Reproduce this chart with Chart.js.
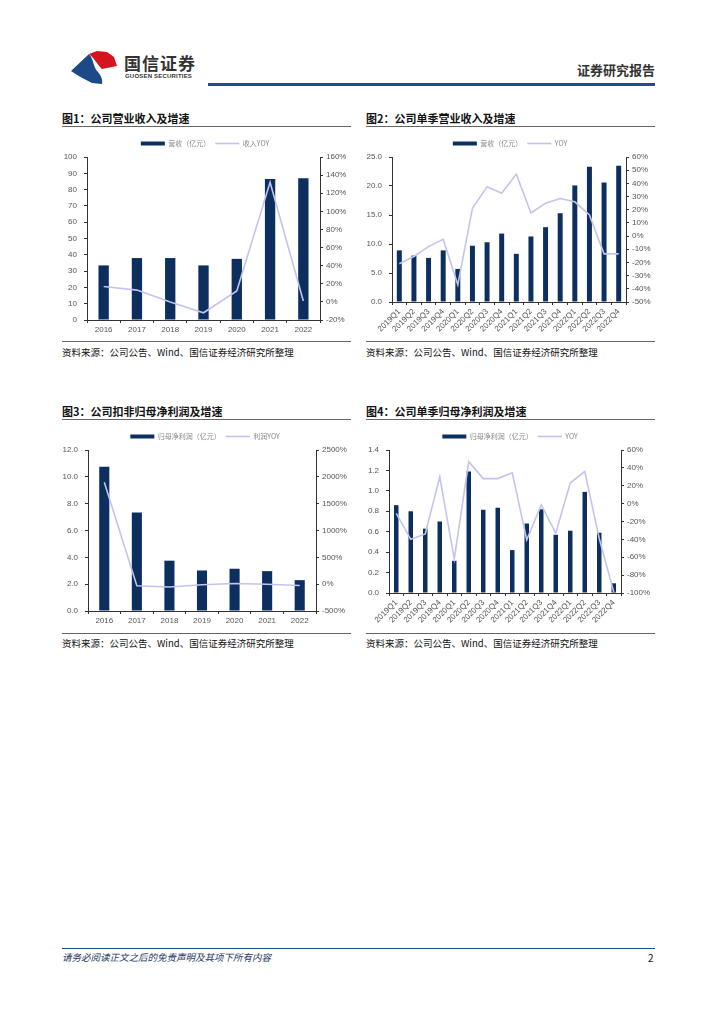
<!DOCTYPE html>
<html>
<head>
<meta charset="utf-8">
<script src="https://cdn.jsdelivr.net/npm/chart.js@4"></script>
<style>
  body { margin: 0; background: #fff; }
  #page { position: relative; width: 724px; height: 1024px; overflow: hidden;
    font-family: "Noto Sans CJK SC", "Noto Sans", sans-serif; color: #222; }
  .abs { position: absolute; }
  .title { font-size: 11px; font-weight: bold; color: #111; white-space: nowrap; }
  .rule { height: 0; border-top: 1.5px solid #666; }
  .src { font-size: 9.5px; color: #111; white-space: nowrap; }
  .box { position: absolute; }
</style>
</head>
<body>
<div id="page">
  <!-- header -->
  <svg class="abs" style="left:68px;top:48px" width="56" height="40" viewBox="0 0 56 40">
    <path d="M3,23 L21,6 C26,12 25,18 29,23 C33,27 35,32 34,36 L24,35 C18,32 10,28 3,23 Z" fill="#1b4a86"/>
    <path d="M21,6 L29,3 L39,4 L46,9 L49,18 L34,21 C29,16 27,11 21,6 Z" fill="#d4141e"/>
  </svg>
  <div class="abs" style="left:124px;top:50px;font-size:17px;font-weight:bold;color:#333;letter-spacing:1px">国信证券</div>
  <div class="abs" style="left:125px;top:73px;font-family:'Liberation Sans';font-size:6px;font-weight:bold;color:#333;letter-spacing:0.2px">GUOSEN SECURITIES</div>
  <div class="abs" style="right:69px;top:60px;font-size:13px;font-weight:bold;color:#333">证券研究报告</div>
  <div class="abs" style="left:208px;top:83px;width:447px;height:2.5px;background:#1f4e8c"></div>

  <!-- figure 1 -->
  <div class="abs title" style="left:62px;top:110px">图1：公司营业收入及增速</div>
  <div class="abs rule" style="left:62px;top:126px;width:289px"></div>
  <div class="box" style="left:55px;top:135px;width:300px;height:205px"><canvas id="c1"></canvas></div>
  <div class="abs rule" style="left:62px;top:341px;width:289px"></div>
  <div class="abs src" style="left:62px;top:345px">资料来源：公司公告、Wind、国信证券经济研究所整理</div>

  <!-- figure 2 -->
  <div class="abs title" style="left:366px;top:110px">图2：公司单季营业收入及增速</div>
  <div class="abs rule" style="left:366px;top:126px;width:289px"></div>
  <div class="box" style="left:360px;top:135px;width:300px;height:205px"><canvas id="c2"></canvas></div>
  <div class="abs rule" style="left:366px;top:341px;width:289px"></div>
  <div class="abs src" style="left:366px;top:345px">资料来源：公司公告、Wind、国信证券经济研究所整理</div>

  <!-- figure 3 -->
  <div class="abs title" style="left:62px;top:403px">图3：公司扣非归母净利润及增速</div>
  <div class="abs rule" style="left:62px;top:419px;width:289px"></div>
  <div class="box" style="left:55px;top:428px;width:300px;height:204px"><canvas id="c3"></canvas></div>
  <div class="abs rule" style="left:62px;top:633px;width:289px"></div>
  <div class="abs src" style="left:62px;top:636px">资料来源：公司公告、Wind、国信证券经济研究所整理</div>

  <!-- figure 4 -->
  <div class="abs title" style="left:366px;top:403px">图4：公司单季归母净利润及增速</div>
  <div class="abs rule" style="left:366px;top:419px;width:289px"></div>
  <div class="box" style="left:360px;top:428px;width:300px;height:204px"><canvas id="c4"></canvas></div>
  <div class="abs rule" style="left:366px;top:633px;width:289px"></div>
  <div class="abs src" style="left:366px;top:636px">资料来源：公司公告、Wind、国信证券经济研究所整理</div>

  <!-- footer -->
  <div class="abs" style="left:62px;top:948px;width:593px;height:1px;background:#1f4e8c"></div>
  <div class="abs" style="left:62px;top:950px;font-size:9.5px;font-style:italic;color:#1f3864">请务必阅读正文之后的免责声明及其项下所有内容</div>
  <div class="abs" style="left:648px;top:950px;font-size:10px;color:#111">2</div>
</div>

<script>
// categories
const years = ["2016", "2017", "2018", "2019", "2020", "2021", "2022"];
const quarters = ["2019Q1", "2019Q2", "2019Q3", "2019Q4", "2020Q1", "2020Q2", "2020Q3", "2020Q4",
  "2021Q1", "2021Q2", "2021Q3", "2021Q4", "2022Q1", "2022Q2", "2022Q3", "2022Q4"];

// 图1 营收（亿元） / 收入YOY (%)
const revenueYear = [33.5, 38.0, 38.0, 33.5, 37.5, 86.5, 87.0];
const revenueYearYoy = [17, 13, 0, -12, 12, 132, 1];

// 图2 单季营收（亿元） / YOY (%)
const revenueQtr = [8.9, 8.0, 7.6, 8.9, 5.7, 9.7, 10.3, 11.8, 8.3, 11.3, 12.9, 15.3, 20.1, 23.3, 20.6, 23.5];
const revenueQtrYoy = [-21, -15.5, -8, -2.5, -37, 21, 37.5, 32.5, 47, 17.5, 25, 28.5, 26, 16, -13.5, -13.5];

// 图3 归母净利润（亿元） / 利润YOY (%)
const profitYear = [10.75, 7.35, 3.75, 3.02, 3.15, 2.97, 2.3];
const profitYearYoy = [1900, -31, -53, -10, 12, -2, -24];

// 图4 单季归母净利润（亿元） / YOY (%)
const profitQtr = [0.86, 0.80, 0.63, 0.70, 0.315, 1.19, 0.815, 0.835, 0.42, 0.68, 0.82, 0.57, 0.61, 0.99, 0.59, 0.095];
const profitQtrYoy = [-11, -40, -34, 30, -62, 47, 28, 28, 34.5, -40.5, -1.5, -33, 23, 36, -39, -99];

// axis ranges [min, max, step]
const axis1 = [0, 100, 10], axis1r = [-20, 160, 20];
const axis2 = [0, 25, 5], axis2r = [-50, 60, 10];
const axis3 = [0, 12, 2], axis3r = [-500, 2500, 500];
const axis4 = [0, 1.4, 0.2], axis4r = [-100, 60, 20];

const BAR = "#0c2f5f";
const LINE = "#c3c3ee";
const TICK = "#555";
const AXIS = "#333";

function fixW(w) { return function (s) { s.width = w; }; }
function fixH(h) { return function (s) { s.height = h; }; }

function makeChart(id, o) {
  new Chart(document.getElementById(id), {
    type: "bar",
    data: {
      labels: o.labels,
      datasets: [
        { type: "line", label: o.lineLabel, data: o.line, yAxisID: "y1", borderColor: LINE,
          backgroundColor: LINE, borderWidth: 1.6, pointRadius: 0, tension: 0, order: 0 },
        { type: "bar", label: o.barLabel, data: o.bars, yAxisID: "y", backgroundColor: BAR,
          barPercentage: o.barPct, categoryPercentage: 1, order: 1 }
      ]
    },
    options: {
      responsive: true,
      maintainAspectRatio: false,
      animation: false,
      layout: { padding: 0 },
      plugins: {
        tooltip: { enabled: false },
        legend: {
          display: true,
          position: "top",
          labels: {
            usePointStyle: true,
            pointStyleWidth: 24,
            boxHeight: 4,
            padding: 5,
            color: "#888",
            font: { family: "Noto Sans CJK SC", size: 7 },
            generateLabels: function (chart) {
              const ds = chart.data.datasets;
              return [
                { text: ds[1].label, fillStyle: BAR, strokeStyle: BAR, lineWidth: 0, pointStyle: "rect", datasetIndex: 1, fontColor: "#888" },
                { text: ds[0].label, fillStyle: LINE, strokeStyle: LINE, lineWidth: 1.6, pointStyle: "line", datasetIndex: 0, fontColor: "#888" }
              ];
            }
          }
        }
      },
      scales: {
        x: {
          grid: { display: true, drawOnChartArea: false, tickLength: 3, color: AXIS, offset: true },
          border: { color: AXIS, width: 1 },
          ticks: { color: TICK, font: { family: "Liberation Sans", size: o.xFont }, padding: 2,
            autoSkip: false, minRotation: o.rot, maxRotation: o.rot },
          afterFit: fixH(o.xH)
        },
        y: {
          position: "left",
          min: o.ax[0], max: o.ax[1],
          grid: { display: true, drawOnChartArea: false, tickLength: 3, color: AXIS },
          border: { color: AXIS, width: 1 },
          ticks: { stepSize: o.ax[2], color: TICK, padding: 7, font: { family: "Liberation Sans", size: 8 },
            callback: function (v) { return o.dec ? Number(v).toFixed(1) : v; } },
          afterFit: fixW(o.lW)
        },
        y1: {
          position: "right",
          min: o.axr[0], max: o.axr[1],
          grid: { display: true, drawOnChartArea: false, tickLength: 3, color: AXIS },
          border: { color: AXIS, width: 1 },
          ticks: { stepSize: o.axr[2], color: TICK, padding: 3, font: { family: "Liberation Sans", size: 8 },
            callback: function (v) { return Math.round(v) + "%"; } },
          afterFit: fixW(o.rW)
        }
      }
    }
  });
}

makeChart("c1", { labels: years, bars: revenueYear, line: revenueYearYoy, barLabel: "营收（亿元）",
  lineLabel: "收入YOY", ax: axis1, axr: axis1r, dec: false, barPct: 0.31, rot: 0, xFont: 8, xH: 20, lW: 32, rW: 35 });
makeChart("c2", { labels: quarters, bars: revenueQtr, line: revenueQtrYoy, barLabel: "营收（亿元）",
  lineLabel: "YOY", ax: axis2, axr: axis2r, dec: true, barPct: 0.34, rot: 45, xFont: 8, xH: 38, lW: 32, rW: 34 });
makeChart("c3", { labels: years, bars: profitYear, line: profitYearYoy, barLabel: "归母净利润（亿元）",
  lineLabel: "利润YOY", ax: axis3, axr: axis3r, dec: true, barPct: 0.31, rot: 0, xFont: 8, xH: 21, lW: 33, rW: 39 });
makeChart("c4", { labels: quarters, bars: profitQtr, line: profitQtrYoy, barLabel: "归母净利润（亿元）",
  lineLabel: "YOY", ax: axis4, axr: axis4r, dec: true, barPct: 0.31, rot: 45, xFont: 8, xH: 39, lW: 29, rW: 39 });
</script>
</body>
</html>
